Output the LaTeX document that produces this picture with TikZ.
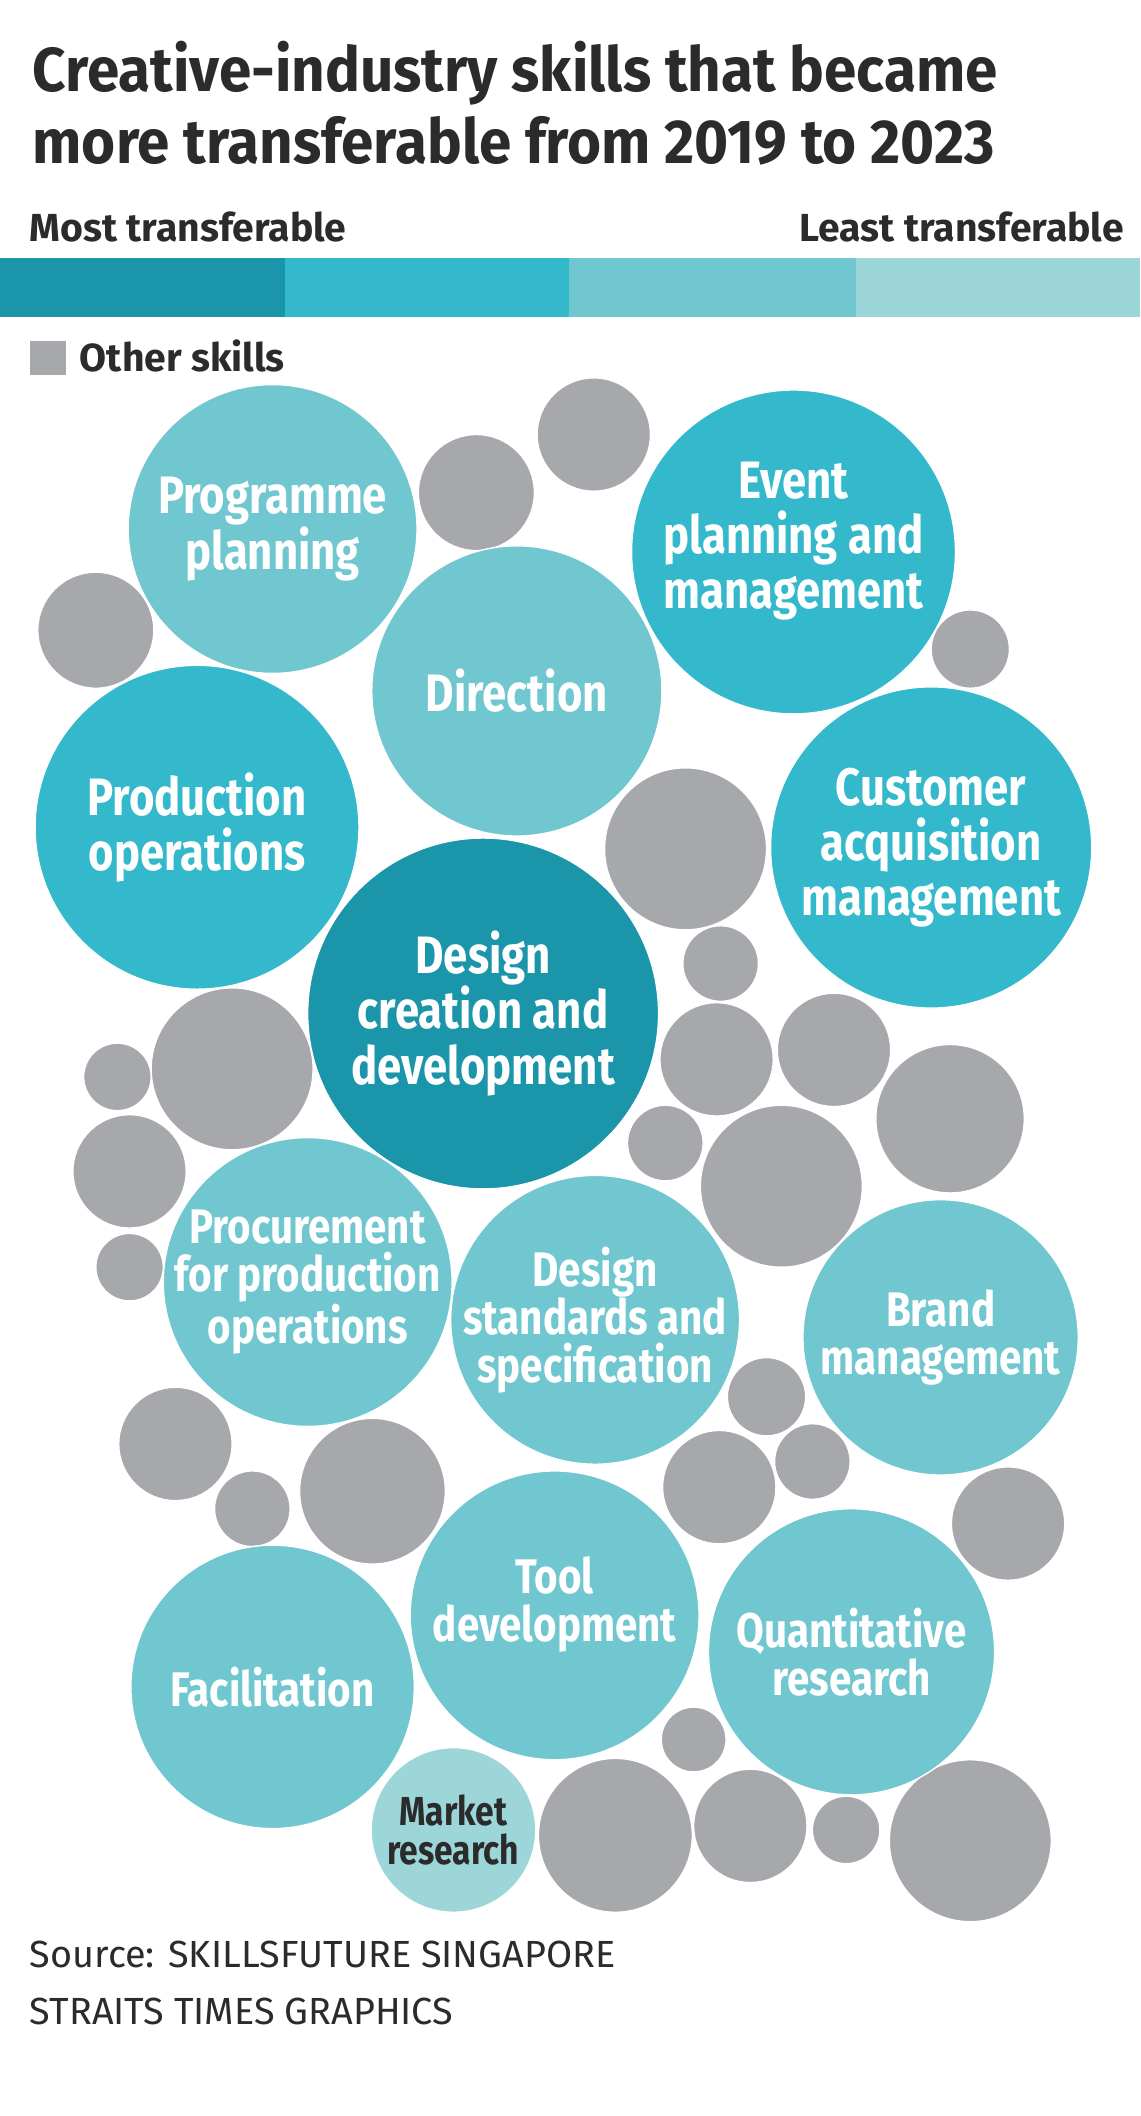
\documentclass[tikz,border=0pt]{standalone}
\usepackage{fontspec}
\setmainfont{Fira Sans}
\newfontfamily\headfont{Fira Sans Bold}
\newfontfamily\titlefont{Fira Sans Bold}[FakeStretch=0.94]
\newfontfamily\skillfont{Fira Sans Bold}[FakeStretch=0.83]

\definecolor{inkgray}{HTML}{2B2B2B}
\definecolor{tealA}{HTML}{1B95A9}
\definecolor{tealB}{HTML}{33B9CB}
\definecolor{tealC}{HTML}{70C7CF}
\definecolor{tealD}{HTML}{9CD6D9}
\definecolor{othergray}{HTML}{A6A8AB}

\tikzset{
  bubble/.style={circle, draw=white, line width=1pt, inner sep=0pt, outer sep=0pt},
  other/.style={bubble, fill=othergray},
  skillL/.style={text=white, align=center, inner sep=0pt, font=\skillfont\fontsize{39}{41}\selectfont},
  skillM/.style={text=white, align=center, inner sep=0pt, font=\skillfont\fontsize{36}{35.5}\selectfont},
  skillS/.style={text=inkgray, align=center, inner sep=0pt, font=\skillfont\fontsize{30}{29}\selectfont},
  legendtext/.style={text=inkgray, inner sep=0pt, font=\headfont\fontsize{29}{32}\selectfont},
  titletext/.style={text=inkgray, inner sep=0pt, anchor=base west, font=\titlefont\fontsize{46}{53}\selectfont},
  sourcetext/.style={text=inkgray, inner sep=0pt, anchor=base west, font=\fontsize{28}{34}\selectfont}
}

\begin{document}
\begin{tikzpicture}[x=1pt, y=-1pt]
\useasboundingbox[fill=white] (0,0) rectangle (845,1568);

% title
\node[titletext] (title1) at (24,68) {Creative-industry skills that became};
\node[titletext] (title2) at (24,121) {more transferable from 2019 to 2023};

% legend
\node[legendtext, anchor=base west] (most) at (22,179) {Most transferable};
\node[legendtext, anchor=base east] (least) at (833,179) {Least transferable};
\fill[tealA] (0,191) rectangle (211,235);
\fill[tealB] (211,191) rectangle (422,235);
\fill[tealC] (422,191) rectangle (634,235);
\fill[tealD] (634,191) rectangle (845,235);
\fill[othergray] (22,253) rectangle (49,278);
\node[legendtext, anchor=base west] (otherkey) at (59,275) {Other skills};

% other skills
\foreach \x/\y/\r [count=\i] in {440/322/42, 353/365/43, 71/467/43, 719/481/29,
    508/629/60, 534/714/28, 172/792/60, 87/798/25, 531/785/42, 618/778/42,
    704/829/55, 96/868/42, 493/847/28, 579/879/60, 96/939/25, 130/1070/42,
    568/1035/29, 602/1083/28, 187/1118/28, 276/1105/54, 533/1102/42,
    747/1129/42, 514/1289/24, 456/1360/57, 556/1353/42, 627/1356/25, 719/1364/60}
  \node[other, minimum size=\r*2pt] (o\i) at (\x,\y) {};

% skills
\node[bubble, fill=tealC, minimum size=214pt, label={[skillL]center:{Programme\\planning}}] (prog) at (202,392) {};
\node[bubble, fill=tealC, minimum size=215pt, label={[skillL]center:{Direction}}] (direction) at (383,512) {};
\node[bubble, fill=tealB, minimum size=240pt, label={[skillL, yshift=8pt]center:{Event\\planning and\\management}}] (event) at (588,409) {};
\node[bubble, fill=tealB, minimum size=240pt, label={[skillL]center:{Production\\operations}}] (prod) at (146,613) {};
\node[bubble, fill=tealB, minimum size=238pt, label={[skillL]center:{Customer\\acquisition\\management}}] (customer) at (690,628) {};
\node[bubble, fill=tealA, minimum size=260pt, label={[skillL]center:{Design\\creation and\\development}}] (creation) at (358,751) {};
\node[bubble, fill=tealC, minimum size=214pt, label={[skillM]center:{Procurement\\for production\\operations}}] (procure) at (228,950) {};
\node[bubble, fill=tealC, minimum size=214pt, label={[skillM]center:{Design\\standards and\\specification}}] (standards) at (441,978) {};
\node[bubble, fill=tealC, minimum size=204pt, label={[skillM]center:{Brand\\management}}] (brand) at (697,991) {};
\node[bubble, fill=tealC, minimum size=214pt, label={[skillM, yshift=8pt]center:{Tool\\development}}] (tool) at (411,1197) {};
\node[bubble, fill=tealC, minimum size=210pt, label={[skillM]center:{Facilitation}}] (facil) at (202,1250) {};
\node[bubble, fill=tealC, minimum size=212pt, label={[skillM]center:{Quantitative\\research}}] (quant) at (631,1224) {};
\node[bubble, fill=tealD, minimum size=122pt, label={[skillS]center:{Market\\research}}] (market) at (336,1356) {};

% source
\node[sourcetext] (source) at (22,1458) {Source: SKILLSFUTURE SINGAPORE};
\node[sourcetext] (credit) at (22,1500) {STRAITS TIMES GRAPHICS};
\end{tikzpicture}
\end{document}
